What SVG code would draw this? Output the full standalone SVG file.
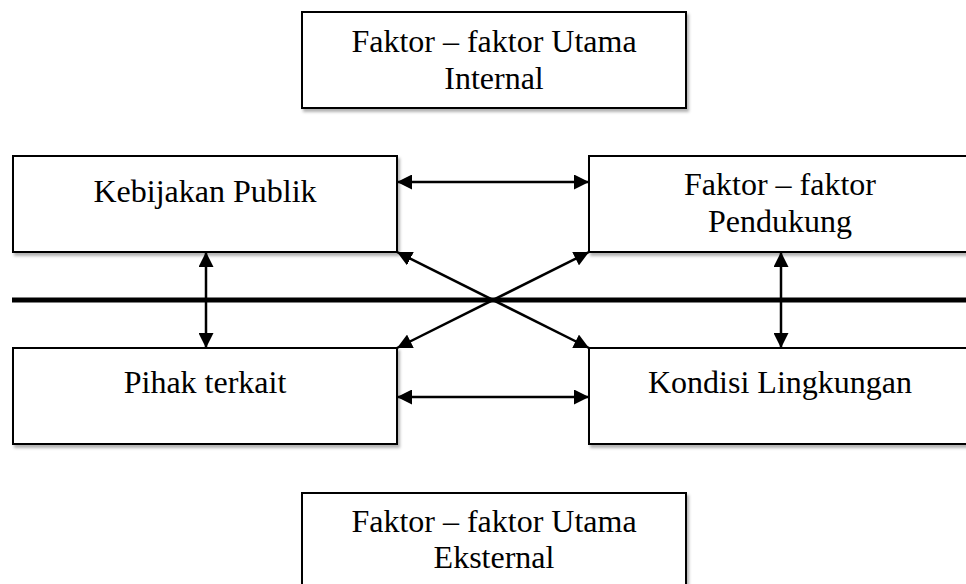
<svg xmlns="http://www.w3.org/2000/svg" width="966" height="584" viewBox="0 0 966 584">
<style>
.box{fill:#fff;stroke:#000;stroke-width:2;filter:url(#sh)}
.t{font-family:"Liberation Serif","Times New Roman",serif;font-size:32px;fill:#000;text-anchor:middle}
.c{stroke:#000;stroke-width:2.5;fill:none;marker-start:url(#ah);marker-end:url(#ah)}
</style>
<defs>
<filter id="sh" x="-5%" y="-10%" width="112%" height="125%">
<feDropShadow dx="2" dy="3" stdDeviation="1.5" flood-color="#000" flood-opacity="0.3"/>
</filter>
<marker id="ah" viewBox="0 0 15 15" refX="15" refY="7.5" markerWidth="15" markerHeight="15" markerUnits="userSpaceOnUse" orient="auto-start-reverse">
<path d="M0,0 L15,7.5 L0,15 Z" fill="#000"/>
</marker>
</defs>
<rect width="966" height="584" fill="#fff"/>
<g id="internal">
<rect class="box" x="302" y="12" width="384" height="96"/>
<text class="t" x="494" y="52">Faktor – faktor Utama</text>
<text class="t" x="494" y="89">Internal</text>
</g>
<g id="kebijakan">
<rect class="box" x="13" y="156" width="384" height="96"/>
<text class="t" x="205" y="202">Kebijakan Publik</text>
</g>
<g id="pendukung">
<rect class="box" x="589" y="156" width="384" height="96"/>
<text class="t" x="780" y="195">Faktor – faktor</text>
<text class="t" x="780" y="232">Pendukung</text>
</g>
<g id="pihak">
<rect class="box" x="13" y="348" width="384" height="96"/>
<text class="t" x="205" y="393">Pihak terkait</text>
</g>
<g id="kondisi">
<rect class="box" x="589" y="348" width="384" height="96"/>
<text class="t" x="780" y="393">Kondisi Lingkungan</text>
</g>
<g id="eksternal">
<rect class="box" x="302" y="493" width="384" height="96"/>
<text class="t" x="494" y="532">Faktor – faktor Utama</text>
<text class="t" x="494" y="568">Eksternal</text>
</g>
<g id="connectors">
<line x1="12" y1="300" x2="966" y2="300" stroke="#000" stroke-width="5"/>
<line class="c" x1="397" y1="182" x2="589" y2="182"/>
<line class="c" x1="397" y1="397" x2="589" y2="397"/>
<line class="c" x1="206" y1="252" x2="206" y2="348"/>
<line class="c" x1="781" y1="252" x2="781" y2="348"/>
<line class="c" x1="397" y1="252" x2="589" y2="348"/>
<line class="c" x1="589" y1="252" x2="397" y2="348"/>
</g>
</svg>
